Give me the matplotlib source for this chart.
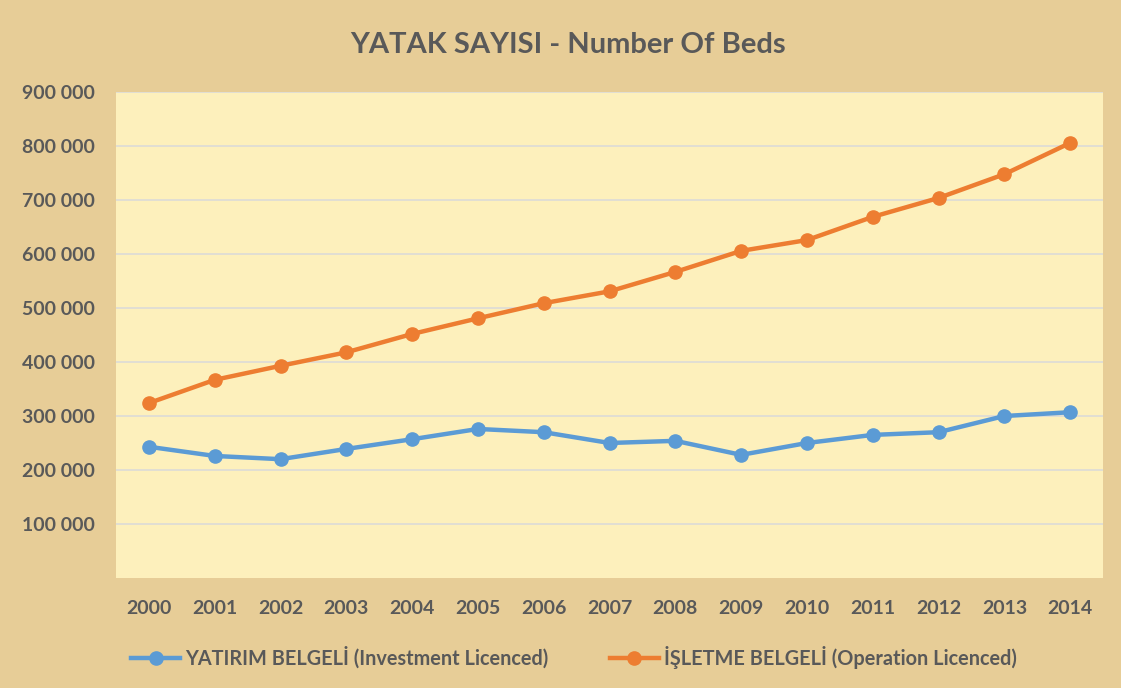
import matplotlib
matplotlib.use("Agg")
import matplotlib.pyplot as plt
from matplotlib.ticker import FuncFormatter

years = ["2000", "2001", "2002", "2003", "2004", "2005", "2006", "2007",
         "2008", "2009", "2010", "2011", "2012", "2013", "2014"]
investment = [243000, 226000, 220000, 239000, 257000, 276000, 270000, 250000,
              254000, 228000, 250000, 265000, 270000, 300000, 307000]
operation = [324000, 367000, 393000, 418000, 452000, 481000, 509000, 531000,
             567000, 606000, 626000, 669000, 704000, 748000, 806000]
yticks = [100000, 200000, 300000, 400000, 500000, 600000, 700000, 800000, 900000]

plt.rcParams['font.family'] = ['Lato', 'DejaVu Sans']
plt.rcParams['hatch.color'] = '#F4DC8C'
plt.rcParams['hatch.linewidth'] = 0.6

txt = '#595959'
fig = plt.figure(figsize=(11.21, 6.88), dpi=100, facecolor='#E7CD97')
ax = fig.add_axes([0.1035, 0.160, 0.8805, 0.706])
ax.set_facecolor('#FDF0BC')
ax.patch.set_hatch('xxxx')
ax.patch.set_edgecolor('none')

x = list(range(len(years)))
ax.plot(x, investment, color='#5B9BD5', lw=3.2, marker='o', ms=9.5, zorder=3,
        label='YATIRIM BELGELİ (Investment Licenced)')
ax.plot(x, operation, color='#ED7D31', lw=3.2, marker='o', ms=9.5, zorder=3,
        label='İŞLETME BELGELİ (Operation Licenced)')

ax.set_xlim(-0.5, len(years) - 0.5)
ax.set_ylim(0, 900000)
ax.set_yticks(yticks)
ax.yaxis.set_major_formatter(FuncFormatter(lambda v, p: f"{int(v):,}".replace(",", " ")))
ax.set_xticks(x)
ax.set_xticklabels(years)
ax.grid(axis='y', color='#D9D9D9', lw=1.1, zorder=1)
ax.set_axisbelow(True)
for s in ax.spines.values():
    s.set_visible(False)
ax.tick_params(length=0, labelsize=14, colors=txt)
ax.tick_params(axis='y', pad=15)
ax.tick_params(axis='x', pad=16)
for lab in ax.get_xticklabels() + ax.get_yticklabels():
    lab.set_fontweight('bold')

fig.text(0.507, 0.935, 'YATAK SAYISI - Number Of Beds', ha='center', va='center',
         fontsize=21, fontweight='bold', color=txt)

leg = fig.legend(loc='center', bbox_to_anchor=(0.512, 0.045), ncol=2, frameon=False,
                 handlelength=2.45, columnspacing=3.1, handletextpad=0.25,
                 prop={'weight': 'bold', 'size': 14.3})
for t in leg.get_texts():
    t.set_color(txt)

fig.savefig('out.png', dpi=100, facecolor=fig.get_facecolor())
